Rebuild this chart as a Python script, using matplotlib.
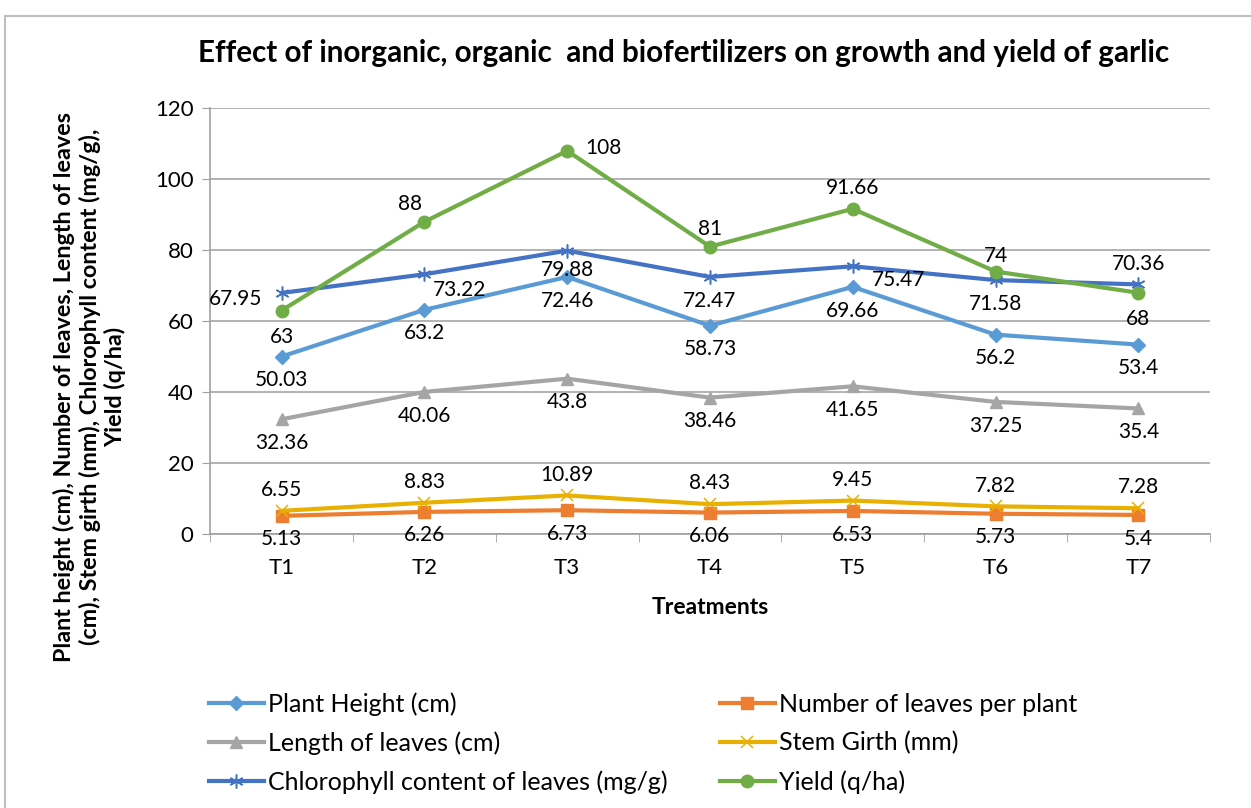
import matplotlib
matplotlib.use("Agg")
import matplotlib.pyplot as plt
from matplotlib.patches import Rectangle

categories = ["T1", "T2", "T3", "T4", "T5", "T6", "T7"]
plant_height = [50.03, 63.2, 72.46, 58.73, 69.66, 56.2, 53.4]
num_leaves = [5.13, 6.26, 6.73, 6.06, 6.53, 5.73, 5.4]
length_leaves = [32.36, 40.06, 43.8, 38.46, 41.65, 37.25, 35.4]
stem_girth = [6.55, 8.83, 10.89, 8.43, 9.45, 7.82, 7.28]
chlorophyll = [67.95, 73.22, 79.88, 72.47, 75.47, 71.58, 70.36]
yield_qha = [63, 88, 108, 81, 91.66, 74, 68]

series_names = ["Plant Height (cm)", "Number of leaves per plant", "Length of leaves (cm)",
                "Stem Girth (mm)", "Chlorophyll content of leaves (mg/g)", "Yield (q/ha)"]

plt.rcParams['font.family'] = ['Lato', 'DejaVu Sans']

fig = plt.figure(figsize=(12.51, 8.08), dpi=100)
ax = fig.add_axes([0.168, 0.339, 0.799, 0.527])

x = list(range(1, len(categories) + 1))

B, A = (0, -17), (0, 15)
styles = [
    (plant_height, "#5B9BD5", "D", 7, [B] * 7),
    (num_leaves, "#ED7D31", "s", 8, [B] * 7),
    (length_leaves, "#A5A5A5", "^", 8, [B] * 7),
    (stem_girth, "#E8B000", "x", 9, [A] * 7),
    (chlorophyll, "#4472C4", (6, 2, 0), 10, [(-33, -4), (25, -11), (0, -14), (0, -17), (33, -10), (0, -17), (0, 15)]),
    (yield_qha, "#70AD47", "o", 9, [(0, -19), (-10, 13), (26, 2), (0, 13), (0, 15), (0, 11), (0, -19)]),
]

for (vals, color, marker, ms, offs), name in zip(styles, series_names):
    mew = 1.1 if marker in ("x", (6, 2, 0)) else 1
    ax.plot(x, vals, color=color, lw=3, marker=marker, ms=ms, mec=color, mfc=color,
            mew=mew, label=name, zorder=3)
    for xi, v, off in zip(x, vals, offs):
        ax.annotate(f"{v:g}", (xi, v), xytext=off, textcoords="offset points",
                    ha="center", va="center", fontsize=15, color="#000000", zorder=4)

ax.set_xlim(0.5, 7.5)
ax.set_ylim(0, 120)
ax.set_yticks(range(0, 121, 20))
ax.set_xticks(x)
ax.set_xticklabels(categories)
ax.set_xticks([i + 0.5 for i in range(0, 8)], minor=True)
ax.tick_params(axis='x', which='major', length=0, labelsize=16, pad=17)
ax.tick_params(axis='x', which='minor', length=6, color="#A0A0A0")
ax.tick_params(axis='y', length=6, color="#A0A0A0", labelsize=16, pad=6)
ax.grid(axis='y', color="#A6A6A6", lw=1.2, zorder=0)
ax.set_axisbelow(True)
for s in ["top", "right"]:
    ax.spines[s].set_visible(False)
ax.spines["left"].set_color("#A0A0A0")
ax.spines["bottom"].set_color("#A0A0A0")
ax.spines["left"].set_linewidth(1.2)
ax.spines["bottom"].set_linewidth(1.2)

ax.set_xlabel("Treatments", fontsize=16.5, fontweight="bold", labelpad=14)
ax.set_ylabel("Plant height (cm), Number of leaves, Length of leaves\n(cm), Stem girth (mm), Chlorophyll content (mg/g),\nYield (q/ha)",
              fontsize=16.8, fontweight="bold", linespacing=1.2)
ax.yaxis.set_label_coords(-0.084, 0.345)

fig.text(0.5465, 0.935, "Effect of inorganic, organic  and biofertilizers on growth and yield of garlic",
         ha="center", va="center", fontsize=21.3, fontweight="bold")

handles, labels = ax.get_legend_handles_labels()
order = [0, 2, 4, 1, 3, 5]
leg = fig.legend([handles[i] for i in order], [labels[i] for i in order],
                 loc="upper left", bbox_to_anchor=(0.149, 0.171), ncol=2, frameon=False,
                 fontsize=18, columnspacing=2.1, handlelength=2.2, handletextpad=0.15,
                 labelspacing=0.62)

fig.patches.append(Rectangle((0.004, -0.01), 1.2, 0.99, transform=fig.transFigure,
                             fill=False, edgecolor="#BFBFBF", lw=1.5))

fig.savefig("out.png", dpi=100)
